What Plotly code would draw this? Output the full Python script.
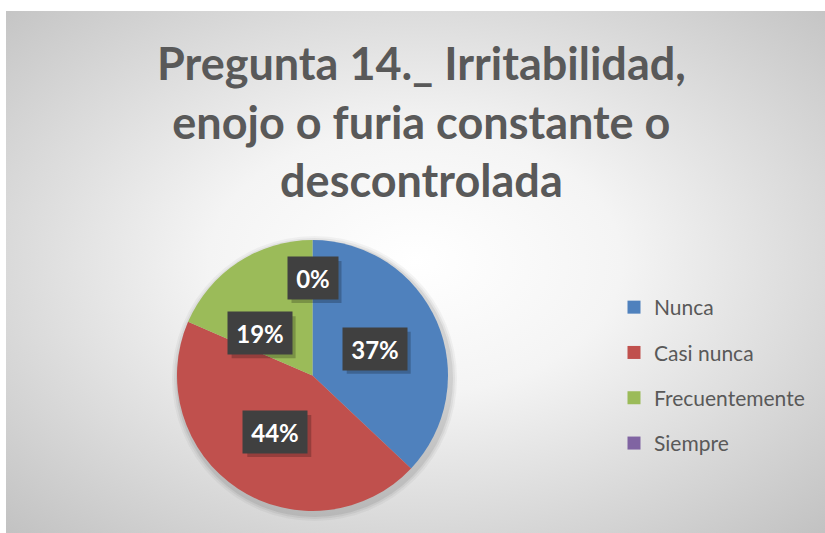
import base64
import math
import plotly.graph_objects as go

# ---- data ----
categories = ["Nunca", "Casi nunca", "Frecuentemente", "Siempre"]
counts = [10, 12, 5, 0]
colors = ["#4F81BD", "#C0504D", "#9BBB59", "#8064A2"]
title_lines = ["Pregunta 14._ Irritabilidad,", "enojo o furia constante o", "descontrolada"]

# ---- layout helpers ----
W, H = 825, 533
CX, CY, R = 312.5, 375.5, 135.5          # pie centre / radius in px
# "best fit" label placement (radius factor, angle nudge in degrees)
label_rfac = [0.5, 0.5, 0.5, 0.72]
label_dang = [0, 0, -18, 0]

def px_x(x):
    return x / W

def px_y(y):
    return 1 - y / H

pie_domain = dict(x=[px_x(CX - R), px_x(CX + R)], y=[px_y(CY + R), px_y(CY - R)])

fig = go.Figure()

# background radial gradient (chart area)
svg = ('<svg xmlns="http://www.w3.org/2000/svg" width="819" height="522" '
       'viewBox="0 0 819 522" preserveAspectRatio="none">'
       '<defs><radialGradient id="g" cx="50%" cy="48%" r="72%">'
       '<stop offset="0" stop-color="#ffffff"/>'
       '<stop offset="0.35" stop-color="#f4f4f4"/>'
       '<stop offset="1" stop-color="#c2c2c2"/></radialGradient></defs>'
       '<rect width="819" height="522" fill="url(#g)"/></svg>')
src = "data:image/svg+xml;base64," + base64.b64encode(svg.encode()).decode()
fig.add_layout_image(dict(source=src, xref="paper", yref="paper",
                          x=px_x(6), y=px_y(11), sizex=1 - px_x(6), sizey=px_y(11),
                          xanchor="left", yanchor="top", sizing="stretch", layer="below"))

# soft shadow behind pie
for k, a in [(7, 0.04), (5, 0.05), (3, 0.07)]:
    fig.add_trace(go.Pie(values=[1], labels=["s"], marker=dict(colors=[f"rgba(0,0,0,{a})"], line=dict(width=0)),
                         textinfo="none", hoverinfo="skip", showlegend=False, sort=False,
                         domain=dict(x=[px_x(CX + 2 - R - k), px_x(CX + 2 + R + k)],
                                     y=[px_y(CY + 3 + R + k), px_y(CY + 3 - R - k)])))

fig.add_trace(go.Pie(
    labels=categories, values=counts, sort=False, direction="clockwise", rotation=0,
    marker=dict(colors=colors, line=dict(width=0)),
    textinfo="none", hoverinfo="label+percent", showlegend=False, domain=pie_domain,
))

# legend entries (one group each so spacing can be set)
for c, col in zip(categories, colors):
    fig.add_trace(go.Scatter(x=[None], y=[None], mode="markers", name=c, legendgroup=c,
                             marker=dict(symbol="square", size=13, color=col)))

# percentage labels in dark boxes
total = sum(counts)
cum = 0
PAD = 7
for i, v in enumerate(counts):
    mid = (cum + v / 2) / total * 360 + label_dang[i]
    cum += v
    rr = R * label_rfac[i]
    lx = CX + rr * math.sin(math.radians(mid))
    ly = CY - rr * math.cos(math.radians(mid))
    txt = f"{round(v / total * 100)}%"
    bw = 14 * len(txt) + 8   # inner width
    bh = 28
    # drop shadow
    fig.add_shape(type="rect", xref="paper", yref="paper", xsizemode="pixel", ysizemode="pixel",
                  xanchor=px_x(lx), yanchor=px_y(ly),
                  x0=-bw / 2 - PAD + 4, x1=bw / 2 + PAD + 4, y0=-bh / 2 - PAD - 4, y1=bh / 2 + PAD - 4,
                  fillcolor="rgba(0,0,0,0.22)", line=dict(width=0), layer="above")
    fig.add_annotation(
        x=px_x(lx), y=px_y(ly), xref="paper", yref="paper", showarrow=False,
        xanchor="center", yanchor="middle", width=bw, height=bh, valign="middle",
        text=f"<b>{txt}</b>",
        font=dict(family="Lato", size=24, color="white"),
        bgcolor="#404040", borderpad=PAD,
    )

# title
fig.add_annotation(
    x=px_x(422), y=px_y(34), xref="paper", yref="paper", xanchor="center", yanchor="top",
    showarrow=False, text="<b>" + "<br>".join(title_lines) + "</b>", align="center",
    font=dict(family="Lato", size=45, color="#595959"),
)

fig.update_layout(
    width=W, height=H, margin=dict(l=0, r=0, t=0, b=0),
    paper_bgcolor="white", plot_bgcolor="rgba(0,0,0,0)",
    xaxis=dict(visible=False), yaxis=dict(visible=False),
    legend=dict(x=px_x(614), y=px_y(287), xanchor="left", yanchor="top",
                font=dict(family="Lato", size=21, color="#595959"),
                traceorder="grouped", tracegroupgap=15, bgcolor="rgba(0,0,0,0)"),
)

fig.write_html("out.html", config={"displayModeBar": False},
               post_script="document.body.style.margin='0';")
